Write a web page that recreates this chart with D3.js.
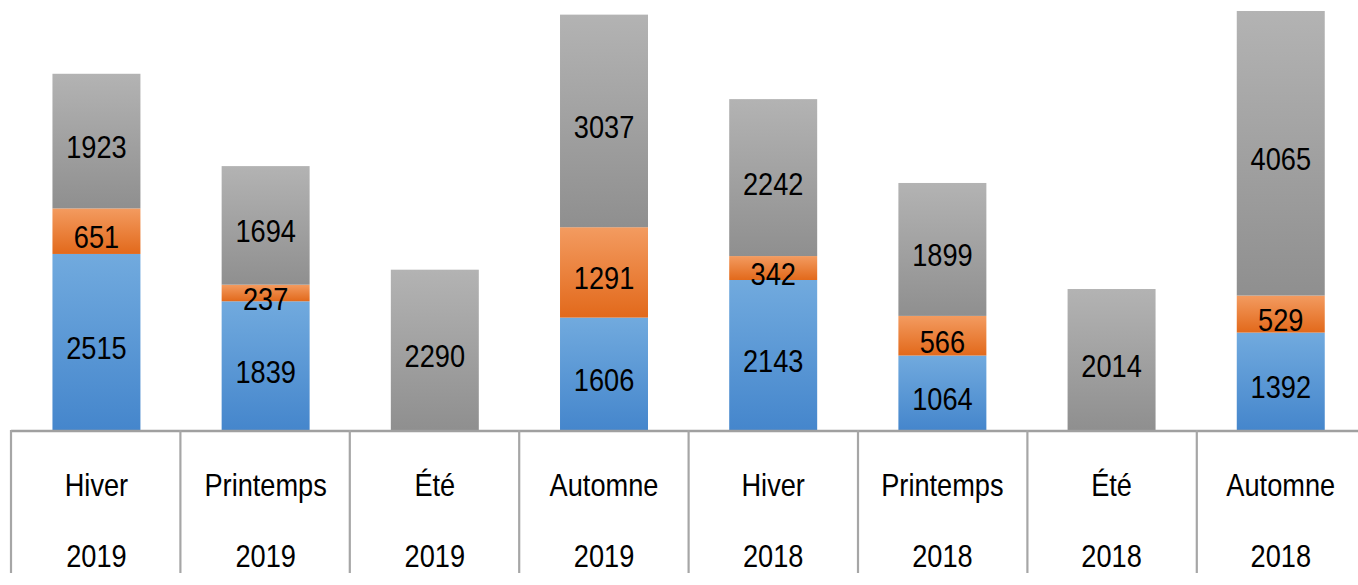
<!DOCTYPE html>
<html><head><meta charset="utf-8">
<script src="https://cdn.jsdelivr.net/npm/d3@7"></script>
<style>html,body{margin:0;padding:0;background:#fff;overflow:hidden}</style>
</head><body>
<svg id="chart" width="1358" height="585"></svg>
<script>
const seasons = ["Hiver","Printemps","Été","Automne","Hiver","Printemps","Été","Automne"];
const years = ["2019","2019","2019","2019","2018","2018","2018","2018"];
const blueValues = [2515,1839,0,1606,2143,1064,0,1392];
const orangeValues = [651,237,0,1291,342,566,0,529];
const grayValues = [1923,1694,2290,3037,2242,1899,2014,4065];
const seriesKeys = ["blue","orange","gray"];

const svg = d3.select("#chart");
const W = 1358, H = 585;
const x0 = 11, step = 169.4;
const baseY = 430;
const font = "'Liberation Sans',Arial,sans-serif";
const sx = 0.85;

const idx = d3.range(seasons.length);
const x = d3.scaleBand().domain(idx).range([x0, x0 + step*idx.length]).paddingInner(0.48).paddingOuter(0.245);
const y = d3.scaleLinear().domain([0, 6143]).range([baseY, 0]);

const rows = idx.map(i => ({i, blue: blueValues[i], orange: orangeValues[i], gray: grayValues[i]}));
const stacked = d3.stack().keys(seriesKeys)(rows);

const defs = svg.append("defs");
const grads = {blue:["#71aade","#4586cc"], orange:["#f39b60","#e2691b"], gray:["#b3b3b3","#8f8f8f"]};
Object.entries(grads).forEach(([k,c]) => {
  const g = defs.append("linearGradient").attr("id","g-"+k).attr("x1",0).attr("y1",0).attr("x2",0).attr("y2",1);
  g.append("stop").attr("offset","0%").attr("stop-color",c[0]);
  g.append("stop").attr("offset","100%").attr("stop-color",c[1]);
});

function label(g, cx, cy, txt) {
  g.append("text")
    .attr("transform", `translate(${cx},${cy}) scale(${sx},1)`)
    .attr("text-anchor","middle")
    .attr("font-family", font).attr("font-size", 32).attr("fill","#000")
    .text(txt);
}

stacked.forEach(layer => {
  const key = layer.key;
  const grp = svg.append("g");
  layer.forEach((d, i) => {
    const v = d[1]-d[0];
    if (v <= 0) return;
    grp.append("rect")
      .attr("x", x(i)).attr("width", x.bandwidth())
      .attr("y", y(d[1])).attr("height", y(d[0]) - y(d[1]))
      .attr("fill", `url(#g-${key})`);
    label(grp, x(i) + x.bandwidth()/2, (y(d[0]) + y(d[1]))/2 + 17, v);
  });
});

// axis
const axisG = svg.append("g");
axisG.append("line").attr("x1", x0).attr("x2", W).attr("y1", baseY+1).attr("y2", baseY+1)
  .attr("stroke","#a0a0a0").attr("stroke-width",2.5);
d3.range(idx.length+1).forEach(k => {
  const xx = x0 + k*step;
  axisG.append("line").attr("x1", xx).attr("x2", xx).attr("y1", baseY).attr("y2", 573)
    .attr("stroke","#a6a6a6").attr("stroke-width",2.2);
});
idx.forEach(i => {
  const cx = x(i) + x.bandwidth()/2;
  label(axisG, cx, 496, seasons[i]);
  label(axisG, cx, 567, years[i]);
});
</script>
</body></html>
